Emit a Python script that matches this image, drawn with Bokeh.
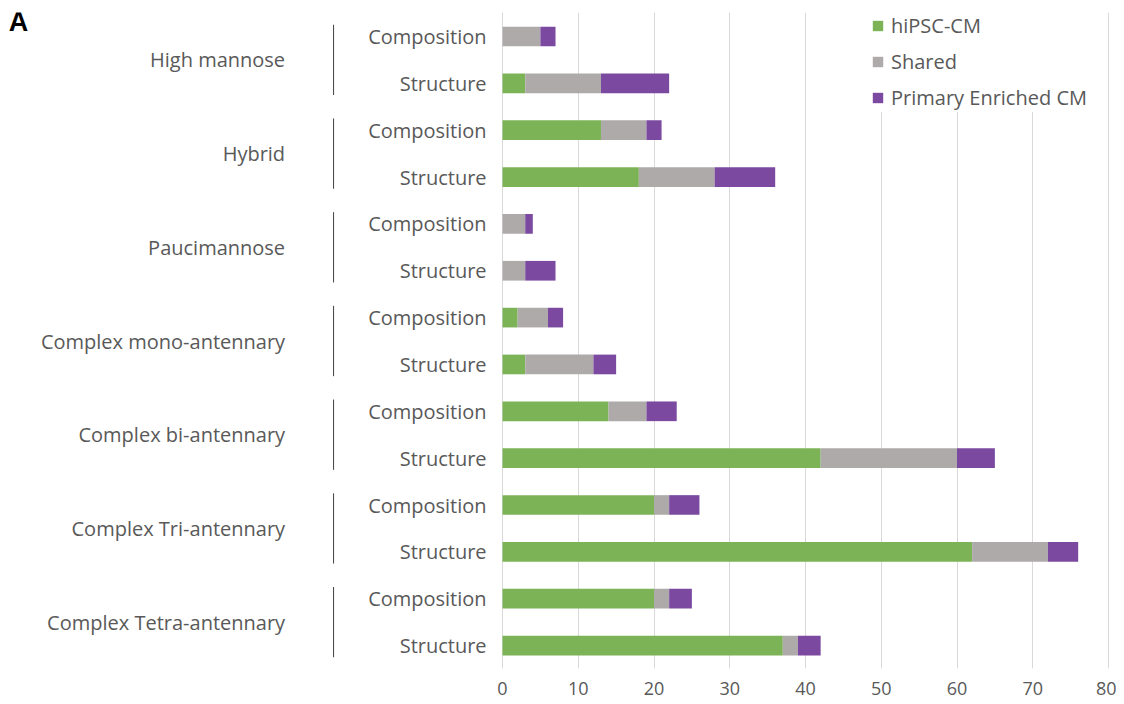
from bokeh.plotting import figure
from bokeh.models import Range1d, FixedTicker, ColumnDataSource
from bokeh.core.properties import value
from bokeh.embed import file_html
from bokeh.resources import INLINE

# ---------------- data ----------------
groups = ["High mannose", "Hybrid", "Paucimannose", "Complex mono-antennary",
          "Complex bi-antennary", "Complex Tri-antennary", "Complex Tetra-antennary"]
subtypes = ["Composition", "Structure"]
series_names = ["hiPSC-CM", "Shared", "Primary Enriched CM"]
hipsc = [0, 3, 13, 18, 0, 0, 2, 3, 14, 42, 20, 62, 20, 37]
shared = [5, 10, 6, 10, 3, 3, 4, 9, 5, 18, 2, 10, 2, 2]
primary = [2, 9, 2, 8, 1, 4, 2, 3, 4, 5, 4, 4, 3, 3]
x_ticks = [0, 10, 20, 30, 40, 50, 60, 70, 80]

# ---------------- layout constants ----------------
colors = ["#7CB356", "#AEAAAA", "#7B4AA0"]
text_color = "#595959"
FONT = "Open Sans"
FW, FH = 1116, 656
TOP = 12
px_per_unit = 7.575
x_start = -502 / px_per_unit
x_end = x_start + FW / px_per_unit
row_px = 46.85
y_top = (TOP - 36) / row_px
y_bottom = y_top + FH / row_px

rows = list(range(len(hipsc)))
src = ColumnDataSource(dict(y=rows, h=hipsc, s=shared, p=primary))

p = figure(frame_width=FW, frame_height=FH, output_backend="svg", toolbar_location=None,
           x_range=Range1d(x_start, x_end), y_range=Range1d(y_bottom, y_top),
           min_border_left=0, min_border_right=0, min_border_top=TOP, min_border_bottom=4)

p.hbar_stack(["h", "s", "p"], y="y", height=0.42, source=src, color=colors,
             line_color=None, legend_label=series_names)

# sub-category labels
sub_labels = [subtypes[i % 2] for i in rows]
p.text(x=[-2.1] * len(rows), y=rows, text=sub_labels, text_align="right",
       text_baseline="middle", text_font=value(FONT), text_font_size="20px",
       text_color=text_color)

# group labels & brackets
centers = [2 * g + 0.5 for g in range(len(groups))]
p.text(x=[-28.7] * len(groups), y=centers, text=groups, text_align="right",
       text_baseline="middle", text_font=value(FONT), text_font_size="20px",
       text_color=text_color)
p.segment(x0=[-22.3] * len(groups), x1=[-22.3] * len(groups),
          y0=[c - 0.75 for c in centers], y1=[c + 0.75 for c in centers],
          line_color="#404040", line_width=1)

# panel letter
p.text(x=[-63.9], y=[-0.3], text=["A"], text_align="center", text_baseline="middle",
       text_font=value("Liberation Sans"), text_font_style="bold",
       text_font_size="27px", text_color="black")

# axes & grid
p.yaxis.visible = False
p.xaxis.ticker = FixedTicker(ticks=x_ticks)
p.xaxis.axis_line_color = None
p.xaxis.major_tick_line_color = None
p.xaxis.minor_tick_line_color = None
p.xaxis.major_label_text_font = FONT
p.xaxis.major_label_text_font_size = "18px"
p.xaxis.major_label_text_color = text_color
p.xaxis.major_label_standoff = 7
p.xgrid.ticker = FixedTicker(ticks=x_ticks)
p.xgrid.grid_line_color = "#D9D9D9"
p.ygrid.visible = False
p.outline_line_color = None

# legend
lg = p.legend[0]
lg.location = (871, FH + TOP - 112)
lg.background_fill_color = "white"
lg.background_fill_alpha = 1.0
lg.border_line_color = None
lg.label_text_font = FONT
lg.label_text_font_size = "20px"
lg.label_text_color = text_color
lg.label_height = 30
lg.glyph_height = 13
lg.glyph_width = 13
lg.label_standoff = 7
lg.spacing = 6
lg.padding = 4
lg.margin = 0

open("out.html", "w").write(file_html(p, INLINE))
